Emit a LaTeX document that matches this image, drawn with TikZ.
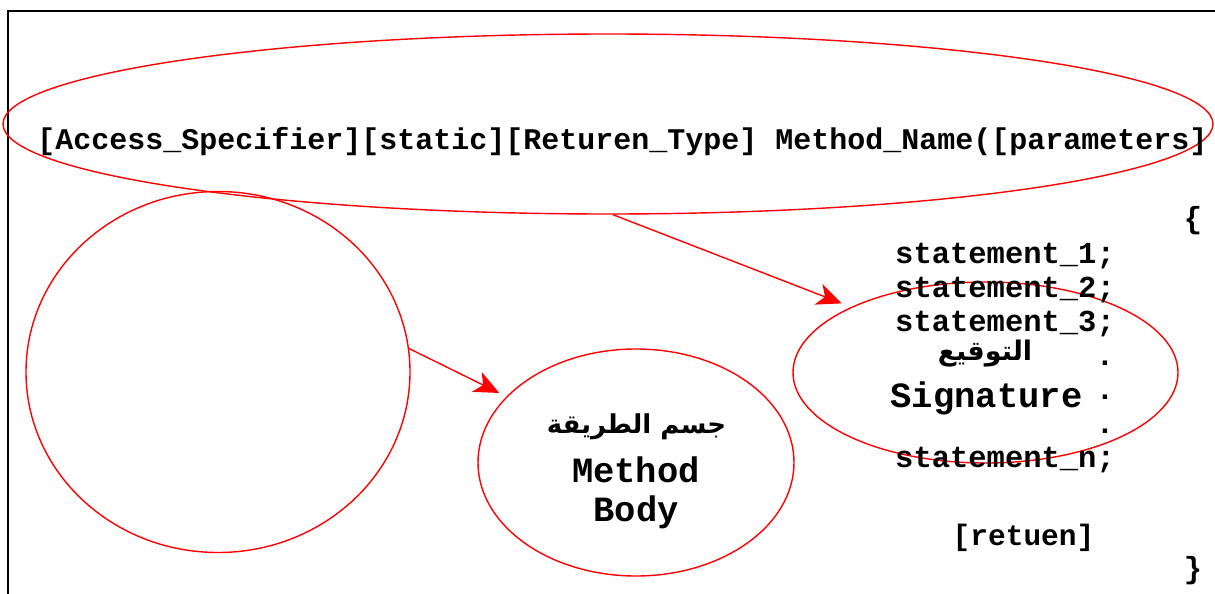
\documentclass[tikz,border=0pt]{standalone}
\usepackage{fontspec}
\setmonofont{Liberation Mono}
\newfontfamily\arabicfont[Script=Arabic]{DejaVu Sans}
\TeXXeTstate=1
\usetikzlibrary{shapes.geometric,arrows.meta}
\begin{document}
\begin{tikzpicture}[x=1pt,y=-1pt,
  oval/.style={ellipse, draw=red, line width=1.4pt, inner sep=0pt},
  hdrtext/.style={font=\ttfamily\bfseries\fontsize{30}{34}\selectfont, inner sep=0pt, anchor=base},
  codeline/.style={font=\ttfamily\bfseries\fontsize{30.5}{34}\selectfont, inner sep=0pt, anchor=base west},
  codemark/.style={font=\ttfamily\bfseries\fontsize{30.5}{34}\selectfont, inner sep=0pt, anchor=base},
  label/.style={font=\ttfamily\bfseries\fontsize{35.5}{40}\selectfont, inner sep=0pt, anchor=base},
  arlabel/.style={font=\arabicfont\bfseries\fontsize{26}{30}\selectfont, inner sep=0pt, anchor=base},
  link/.style={draw=red, line width=1.4pt, -{Stealth[length=25pt,width=22pt,inset=7pt]}}]
\useasboundingbox (0,0) rectangle (1215,594);

% page frame (top and left edges)
\draw[line width=1.3pt] (8,600) -- (8,11) -- (1220,11);

% outlines
\node[oval, minimum width=1210pt, minimum height=180pt] (head) at (608,124) {};
\node[oval, minimum width=384pt, minimum height=361pt] (blank) at (218,372) {};
\node[oval, minimum width=316pt, minimum height=227pt] (body) at (636,462.5) {};
\node[oval, minimum width=385pt, minimum height=181pt] (sig) at (985.5,372.5) {};

% method header line
\node[hdrtext] (hdr) at (622.5,149) {[Access\_Specifier][static][Returen\_Type] Method\_Name([parameters]};

% method body lines
\node[codemark] (open) at (1193,228) {\{};
\node[codeline] (st1) at (895,263) {statement\_1;};
\node[codeline] (st2) at (895,297) {statement\_2;};
\node[codeline] (st3) at (895,331) {statement\_3;};
\node[codemark] (dot1) at (1105,365) {.};
\node[codemark] (dot2) at (1105,399) {.};
\node[codemark] (dot3) at (1105,433) {.};
\node[codeline] (stn) at (895,467) {statement\_n;};
\node[codemark, font=\ttfamily\bfseries\fontsize{29.5}{34}\selectfont] (ret) at (1023.5,545) {[retuen]};
\node[codemark] (close) at (1193,578) {\}};

% captions
\node[arlabel, font=\arabicfont\bfseries\fontsize{27}{30}\selectfont] (sigar) at (985,360) {\beginR التوقيع\endR};
\node[label] (sigen) at (986.5,407) {Signature};
\node[arlabel] (bodyar) at (636.5,433) {\beginR جسم الطريقة\endR};
\node[label] (bodyen1) at (636,482) {Method};
\node[label] (bodyen2) at (636,521) {Body};

% connectors
\draw[link, shorten >=10pt] ([xshift=5pt]head.south) -- (sig.154);
\draw[link, shorten >=8pt] (blank.7) -- (body.153);
\end{tikzpicture}
\end{document}
